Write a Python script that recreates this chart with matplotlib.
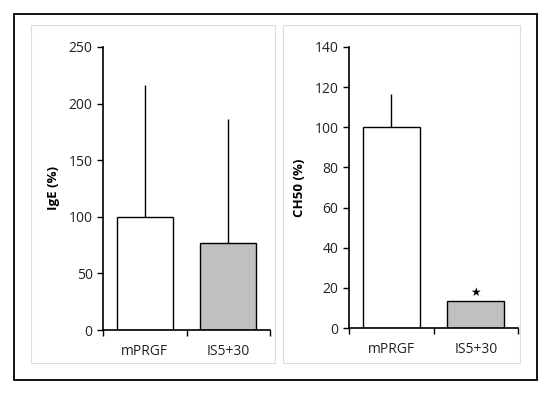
import matplotlib.pyplot as plt
from matplotlib.patches import Rectangle

plt.rcParams['font.family'] = ['Open Sans', 'DejaVu Sans']

groups = ["mPRGF", "IS5+30"]
bar_colors = ["white", "#c0c0c0"]

ige_mean = [100, 76.5]
ige_err = [116, 110]

ch50_mean = [100, 13.6]
ch50_err = [16.4, 0]

W, H = 550, 395
fig = plt.figure(figsize=(5.5, 3.95), dpi=100)

def px_rect(x0, y0, x1, y1, **kw):
    # rectangle in pixel coords (top-left origin) -> figure fraction
    r = Rectangle((x0 / W, 1 - y1 / H), (x1 - x0) / W, (y1 - y0) / H,
                  transform=fig.transFigure, fill=False, **kw)
    fig.patches.append(r)

px_rect(14, 14, 537, 380, lw=1.3, edgecolor="black")
px_rect(31, 25, 275, 363, lw=0.8, edgecolor="#dddddd")
px_rect(283, 25, 520, 363, lw=0.8, edgecolor="#dddddd")

def panel(rect, means, errs, ymax, step, ylabel, star=False):
    x0, y0, x1, y1 = rect
    ax = fig.add_axes([x0 / W, 1 - y1 / H, (x1 - x0) / W, (y1 - y0) / H])
    xs = range(len(groups))
    ax.bar(xs, means, width=0.67, color=bar_colors, edgecolor="black", lw=1, zorder=2)
    ax.errorbar(xs, means, yerr=[[0] * len(errs), errs], fmt="none",
                ecolor="black", elinewidth=1, capsize=0, zorder=1)
    ax.set_xlim(-0.5, len(groups) - 0.5)
    ax.set_ylim(0, ymax)
    ax.set_yticks(range(0, ymax + 1, step))
    ax.set_xticks([-0.5, 0.5, 1.5])
    ax.set_xticklabels([])
    ax.set_xticks(list(xs), minor=True)
    ax.set_xticklabels(groups, minor=True, fontsize=10, color="#222222")
    ax.tick_params(axis="x", which="minor", length=0, pad=10)
    ax.tick_params(axis="x", which="major", length=4, width=1, direction="out")
    ax.tick_params(axis="y", length=4, width=1, labelsize=10, labelcolor="#222222")
    for s in ["top", "right"]:
        ax.spines[s].set_visible(False)
    ax.spines["left"].set_linewidth(1.2)
    ax.spines["bottom"].set_linewidth(1.2)
    ax.set_ylabel(ylabel, fontsize=9.5, fontweight="bold", labelpad=6)
    if star:
        ax.text(1, means[1] + 0.8, "\u2605", ha="center", va="bottom",
                fontsize=8.5, family=["DejaVu Sans"])
    return ax

panel((103, 47, 270, 330), ige_mean, ige_err, 250, 50, "IgE (%)")
panel((349, 47, 518, 328), ch50_mean, ch50_err, 140, 20, "CH50 (%)", star=True)

fig.savefig("out.png", dpi=100)
